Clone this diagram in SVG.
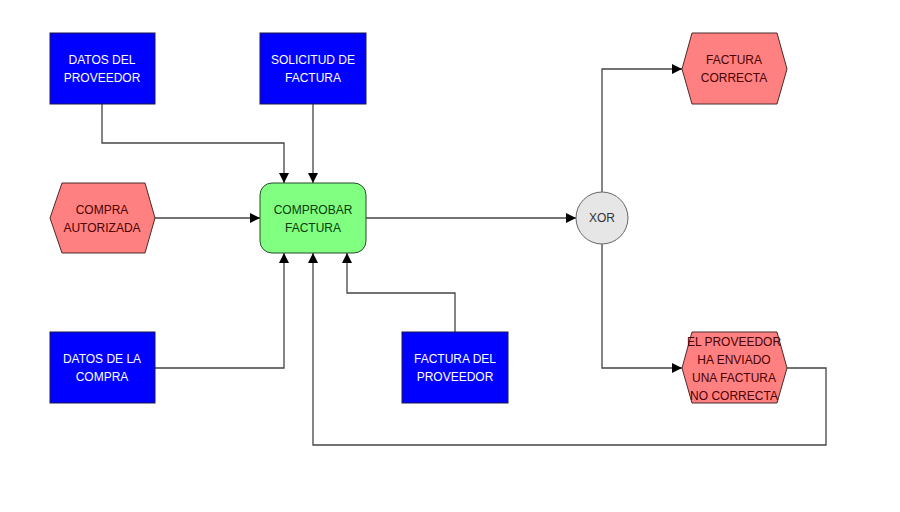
<svg xmlns="http://www.w3.org/2000/svg" width="900" height="512" viewBox="0 0 900 512">
<defs>
<marker id="arr" viewBox="0 0 10 10" refX="10" refY="5" markerWidth="10" markerHeight="10" markerUnits="userSpaceOnUse" orient="auto">
<path d="M0,0 L10,5 L0,10 z" fill="#000"/>
</marker>
<style>
.doc{fill:#0000ff;stroke:#1a1a4a;stroke-width:1}
.ev{fill:#ff8080;stroke:#4a2a2a;stroke-width:1}
.fn{fill:#80ff80;stroke:#2a4a2a;stroke-width:1}
.op{fill:#e6e6e6;stroke:#666;stroke-width:1}
.c{fill:none;stroke:#444;stroke-width:1.3}
text{font-family:"Liberation Sans","Open Sans",Arial,sans-serif;font-size:12px;text-anchor:middle}
.tw{fill:#ffffff}
.te{fill:#4a0000}
.tf{fill:#0a3a0a}
.to{fill:#333}
</style>
</defs>
<rect width="900" height="512" fill="#fff"/>
<g id="connectors">
<path class="c" d="M102,104 V143 H284 V183" marker-end="url(#arr)"/>
<path class="c" d="M313,104 V183" marker-end="url(#arr)"/>
<path class="c" d="M155,218 H260" marker-end="url(#arr)"/>
<path class="c" d="M155,368 H284 V253" marker-end="url(#arr)"/>
<path class="c" d="M455,332 V293 H347 V253" marker-end="url(#arr)"/>
<path class="c" d="M787,368 H826 V445 H313 V253" marker-end="url(#arr)"/>
<path class="c" d="M366,218 H576" marker-end="url(#arr)"/>
<path class="c" d="M602,192 V69 H682" marker-end="url(#arr)"/>
<path class="c" d="M602,244 V368 H682" marker-end="url(#arr)"/>
</g>
<g id="datos-proveedor">
<rect class="doc" x="50" y="33" width="105" height="71"/>
<text class="tw" x="102" y="64">DATOS DEL</text>
<text class="tw" x="102" y="82">PROVEEDOR</text>
</g>
<g id="solicitud-factura">
<rect class="doc" x="260" y="33" width="106" height="71"/>
<text class="tw" x="313" y="64">SOLICITUD DE</text>
<text class="tw" x="313" y="82">FACTURA</text>
</g>
<g id="compra-autorizada">
<polygon class="ev" points="50,218 62,183 145,183 155,218 145,253 62,253"/>
<text class="te" x="102" y="214">COMPRA</text>
<text class="te" x="102" y="232">AUTORIZADA</text>
</g>
<g id="comprobar-factura">
<rect class="fn" x="260" y="183" width="106" height="70" rx="12" ry="12"/>
<text class="tf" x="313" y="214">COMPROBAR</text>
<text class="tf" x="313" y="232">FACTURA</text>
</g>
<g id="datos-compra">
<rect class="doc" x="50" y="332" width="105" height="71"/>
<text class="tw" x="102" y="363">DATOS DE LA</text>
<text class="tw" x="102" y="381">COMPRA</text>
</g>
<g id="factura-proveedor">
<rect class="doc" x="402" y="332" width="106" height="71"/>
<text class="tw" x="455" y="363">FACTURA DEL</text>
<text class="tw" x="455" y="381">PROVEEDOR</text>
</g>
<g id="xor">
<circle class="op" cx="602" cy="218" r="26"/>
<text class="to" x="602" y="222">XOR</text>
</g>
<g id="factura-correcta">
<polygon class="ev" points="682,69 692,33 777,33 787,69 777,104 692,104"/>
<text class="te" x="734" y="64">FACTURA</text>
<text class="te" x="734" y="82">CORRECTA</text>
</g>
<g id="factura-no-correcta">
<polygon class="ev" points="682,368 692,332 777,332 787,368 777,403 692,403"/>
<text class="te" x="734" y="346">EL PROVEEDOR</text>
<text class="te" x="734" y="364">HA ENVIADO</text>
<text class="te" x="734" y="382">UNA FACTURA</text>
<text class="te" x="734" y="400">NO CORRECTA</text>
</g>
</svg>
